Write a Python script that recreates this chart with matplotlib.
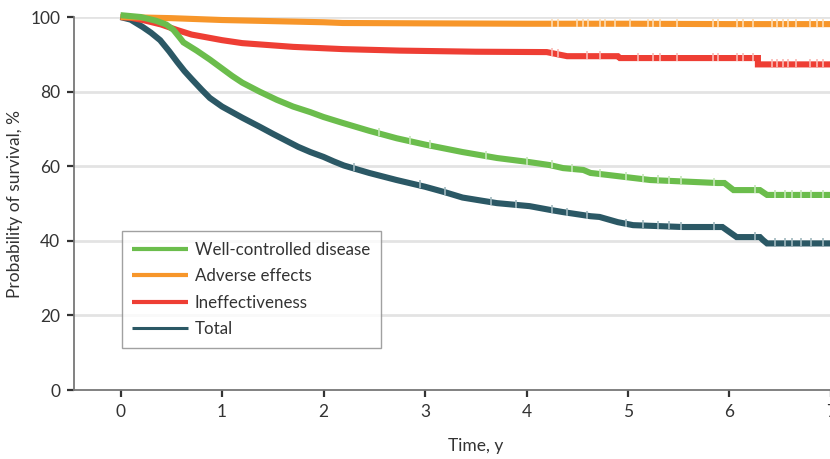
import matplotlib
matplotlib.use("Agg")
import matplotlib.pyplot as plt
from matplotlib import font_manager

names = {f.name for f in font_manager.fontManager.ttflist}
text_font = "Lato" if "Lato" in names else "DejaVu Sans"

# survival curves, time in years, survival in %
total_t = [0, 0.1, 0.22, 0.3, 0.39, 0.48, 0.56, 0.63, 0.7, 0.8, 0.88, 1.0, 1.1, 1.2, 1.37, 1.5, 1.6,
           1.75, 1.87, 2.0, 2.1, 2.2, 2.45, 2.72, 3.0, 3.2, 3.37, 3.55, 3.71, 4.03, 4.23, 4.36, 4.63,
           4.72, 4.9, 5.05, 5.54, 5.93, 6.07, 6.3, 6.33, 6.37, 7.0]
total_v = [100, 99.3, 97.3, 95.8, 93.8, 90.8, 87.9, 85.5, 83.4, 80.5, 78.3, 76.0, 74.5, 73.0, 70.6, 68.7, 67.3,
           65.2, 63.8, 62.5, 61.3, 60.2, 58.2, 56.3, 54.5, 53.0, 51.6, 50.8, 50.1, 49.3, 48.3, 47.7, 46.6,
           46.4, 45.0, 44.2, 43.7, 43.7, 41.0, 41.0, 40.2, 39.3, 39.3]

well_t = [0, 0.2, 0.35, 0.45, 0.52, 0.58, 0.62, 0.75, 0.88, 1.0, 1.1, 1.2, 1.37, 1.54, 1.7, 1.87, 2.0,
          2.19, 2.45, 2.72, 3.0, 3.37, 3.71, 4.03, 4.23, 4.36, 4.56, 4.63, 4.82, 5.22, 5.88, 5.95, 6.04,
          6.3, 6.37, 7.0]
well_v = [100.5, 100, 99.0, 98.0, 96.6, 94.6, 93.2, 91.0, 88.6, 86.2, 84.2, 82.4, 80.0, 77.8, 76.0, 74.5, 73.2,
          71.6, 69.5, 67.5, 65.8, 63.8, 62.2, 61.1, 60.3, 59.5, 59.0, 58.2, 57.6, 56.3, 55.5, 55.5, 53.6,
          53.6, 52.3, 52.3]

adverse_t = [0, 0.5, 1.0, 1.5, 2.0, 2.19, 3.0, 4.0, 5.0, 6.0, 7.0]
adverse_v = [100, 99.7, 99.2, 98.9, 98.6, 98.4, 98.3, 98.2, 98.2, 98.1, 98.1]

ineff_t = [0, 0.1, 0.22, 0.4, 0.56, 0.7, 0.88, 1.0, 1.2, 1.45, 1.7, 2.19, 2.75, 3.0, 3.5, 4.2, 4.4, 4.9,
           4.92, 6.28, 6.28, 7.0]
ineff_v = [100, 99.8, 99.2, 98.0, 96.5, 95.3, 94.4, 93.8, 93.0, 92.5, 92.0, 91.4, 91.0, 90.9, 90.7, 90.6,
           89.5, 89.5, 89.0, 89.0, 87.3, 87.3]

# censoring marks
total_cens = [2.3, 2.95, 3.2, 3.65, 3.9, 4.25, 4.4, 4.6, 4.98, 5.15, 5.3, 5.4, 5.52, 5.85, 6.25, 6.45, 6.55,
              6.62, 6.7, 6.8, 6.92]
well_cens = [2.55, 2.85, 3.05, 3.6, 4.0, 4.25, 4.45, 4.72, 4.98, 5.15, 5.3, 5.4, 5.52, 5.85, 6.25, 6.45,
             6.55, 6.62, 6.7, 6.8, 6.92]
adverse_cens = [4.25, 4.31, 4.5, 4.56, 4.61, 4.72, 4.77, 4.87, 5.02, 5.2, 5.25, 5.32, 5.48, 5.84, 5.89,
                6.07, 6.13, 6.23, 6.42, 6.47, 6.53, 6.58, 6.66, 6.79, 6.86, 6.92]
ineff_cens = [4.25, 4.31, 4.6, 4.72, 5.1, 5.25, 5.32, 5.48, 5.84, 5.89, 6.07, 6.13, 6.23, 6.42, 6.47,
              6.53, 6.58, 6.66, 6.79, 6.86, 6.92]

labels = ["Well-controlled disease", "Adverse effects", "Ineffectiveness", "Total"]
colors = ["#6bbd4c", "#f7962a", "#ee3e34", "#2b5865"]
light = ["#c4e6b7", "#fddcb3", "#f9b9b4", "#9fb8be"]

fig = plt.figure(figsize=(8.30, 4.59), dpi=100)
ax = fig.add_axes([0.0892, 0.1503, 0.912, 0.8126])


def value_at(ts, vs, t):
    # value on the drawn curve at time t
    for i in range(len(ts) - 1):
        if ts[i] <= t <= ts[i + 1]:
            if ts[i + 1] == ts[i]:
                return vs[i + 1]
            f = (t - ts[i]) / (ts[i + 1] - ts[i])
            return vs[i] + f * (vs[i + 1] - vs[i])
    return vs[-1]


series = [(total_t, total_v, total_cens, 3), (ineff_t, ineff_v, ineff_cens, 2),
          (adverse_t, adverse_v, adverse_cens, 1), (well_t, well_v, well_cens, 0)]
handles = {}
for ts, vs, cens, k in series:
    line, = ax.plot(ts, vs, color=colors[k], lw=4.4, solid_joinstyle="miter",
                    solid_capstyle="butt", clip_on=False, zorder=3 + (3 - k) * 0.1)
    cy = [value_at(ts, vs, c) + 0.3 for c in cens]
    ax.plot(cens, cy, ls="none", marker="|", ms=6, mew=1.2, color=light[k],
            clip_on=False, zorder=3.05 + (3 - k) * 0.1)
    handles[k] = line

ax.set_xlim(-0.458, 7.0)
ax.set_ylim(0, 100)
ax.set_xticks(range(0, 8))
ax.set_yticks(range(0, 101, 20))
for y in range(20, 101, 20):
    ax.axhline(y, color="#e3e3e3", lw=2, zorder=1)

for s in ["top", "right"]:
    ax.spines[s].set_visible(False)
for s in ["left", "bottom"]:
    ax.spines[s].set_color("#777777")
    ax.spines[s].set_linewidth(1.3)
ax.tick_params(direction="out", length=5, width=1.6, color="#333333",
               labelsize=12.5, labelcolor="#333333", pad=5)
for lab in ax.get_xticklabels() + ax.get_yticklabels():
    lab.set_fontfamily(text_font)

ax.set_xlabel("Time, y", fontsize=12.5, color="#333333", fontfamily=text_font)
ax.xaxis.set_label_coords(0.531, -0.128)
ax.set_ylabel("Probability of survival, %", fontsize=12.5, color="#333333", fontfamily=text_font)
ax.yaxis.set_label_coords(-0.067, 0.5)

leg_handles = [handles[0], handles[1], handles[2], handles[3]]
leg = ax.legend(leg_handles, labels, loc="upper left", bbox_to_anchor=(0.063, 0.426),
                borderaxespad=0, fancybox=False, frameon=True, handlelength=3.3,
                handletextpad=0.4, labelspacing=0.62, borderpad=0.62,
                prop={"family": text_font, "size": 12.2})
leg.get_frame().set_edgecolor("#8a8a8a")
leg.get_frame().set_linewidth(1.0)
for i, h in enumerate(leg.legend_handles):
    h.set_linewidth(3.0 if i < 3 else 2.2)
for t in leg.get_texts():
    t.set_color("#333333")

fig.savefig("out.png", dpi=100)
